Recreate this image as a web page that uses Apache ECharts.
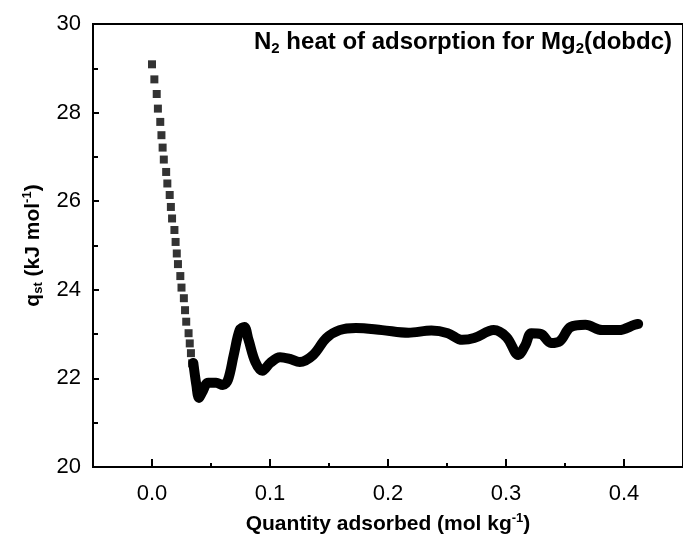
<!DOCTYPE html>
<html>
<head>
<meta charset="utf-8">
<script src="https://cdn.jsdelivr.net/npm/echarts@6/dist/echarts.min.js"></script>
<style>
html,body{margin:0;padding:0;background:#fff;}
#main{width:683px;height:544px;}
</style>
</head>
<body>
<div id="main"></div>
<script>
// Discrete low-loading points (square markers)
var scatterX = [0.000, 0.002, 0.004, 0.005, 0.007, 0.008, 0.009, 0.010, 0.012, 0.013, 0.015, 0.016, 0.017, 0.019, 0.020, 0.021, 0.022, 0.024, 0.025, 0.027, 0.028, 0.029, 0.031, 0.032, 0.033, 0.034];
var scatterY = [29.09, 28.75, 28.42, 28.09, 27.79, 27.49, 27.21, 26.94, 26.66, 26.40, 26.14, 25.87, 25.61, 25.35, 25.08, 24.82, 24.58, 24.31, 24.05, 23.81, 23.54, 23.28, 23.02, 22.79, 22.57, 22.34];
// Dense region (appears as a thick continuous curve)
var lineX = [0.035, 0.0376, 0.0398, 0.0426, 0.0476, 0.0543, 0.0601, 0.0643, 0.0693, 0.0743, 0.0782, 0.0818, 0.0876, 0.0935, 0.1002, 0.1085, 0.1169, 0.1252, 0.1366, 0.1477, 0.1589, 0.1728, 0.1951, 0.2173, 0.2368, 0.2507, 0.2629, 0.2730, 0.2896, 0.3005, 0.3105, 0.3164, 0.3214, 0.3297, 0.3381, 0.3456, 0.3548, 0.3673, 0.3815, 0.3957, 0.4090, 0.4120];
var lineY = [22.35, 21.85, 21.56, 21.69, 21.90, 21.90, 21.85, 21.96, 22.53, 23.09, 23.16, 22.87, 22.37, 22.17, 22.35, 22.48, 22.44, 22.37, 22.53, 22.91, 23.09, 23.14, 23.09, 23.03, 23.08, 23.02, 22.87, 22.91, 23.09, 22.93, 22.53, 22.75, 23.02, 23.00, 22.80, 22.84, 23.16, 23.21, 23.09, 23.09, 23.21, 23.23];
var xMajor = [0, 0.1, 0.2, 0.3, 0.4];
var xMinor = [0.05, 0.15, 0.25, 0.35, 0.45];

var FONT = 'Liberation Sans';
function pairs(xs, ys){ return xs.map(function(x,i){ return [x, ys[i]]; }); }

var chart = echarts.init(document.getElementById('main'), null, {renderer:'canvas'});
chart.setOption({
  animation: false,
  backgroundColor: '#fff',
  title: {
    text: '{a|N}{s|2}{a| heat of adsorption for Mg}{s|2}{a|(dobdc)}',
    right: 6, top: 24,
    textStyle: {
      rich: {
        a: {fontFamily: FONT, fontWeight: 'bold', fontSize: 24, color: '#000', lineHeight: 27},
        s: {fontFamily: FONT, fontWeight: 'bold', fontSize: 15, color: '#000', lineHeight: 4, verticalAlign: 'bottom'}
      }
    }
  },
  grid: {left: 93, top: 24, right: -9, bottom: 77, show: true, borderColor: '#000', borderWidth: 2, backgroundColor: 'transparent'},
  xAxis: [{
    type: 'value', min: -0.05, max: 0.45,
    name: '{b|Quantity adsorbed (mol kg}{p|-1}{b|)}',
    nameLocation: 'middle', nameGap: 45,
    nameTextStyle: {rich: {
      b: {fontFamily: FONT, fontWeight: 'bold', fontSize: 21, color: '#000', lineHeight: 24},
      p: {fontFamily: FONT, fontWeight: 'bold', fontSize: 13, color: '#000', lineHeight: 8, verticalAlign: 'top'}
    }},
    axisLine: {show: true, onZero: false, lineStyle: {color: '#000', width: 2}},
    axisTick: {show: true, inside: true, length: 8, customValues: xMajor, lineStyle: {color: '#000', width: 2}},
    axisLabel: {show: true, customValues: xMajor, margin: 16, fontFamily: FONT, fontSize: 22, color: '#000',
      formatter: function(v){ return v.toFixed(1); }},
    splitLine: {show: false}
  }, {
    type: 'value', min: -0.05, max: 0.45, position: 'bottom', gridIndex: 0,
    axisLine: {show: false},
    axisTick: {show: true, inside: true, length: 4, customValues: xMinor, lineStyle: {color: '#000', width: 2}},
    axisLabel: {show: false},
    splitLine: {show: false}
  }],
  yAxis: {
    type: 'value', min: 20, max: 30, interval: 2,
    name: '{q|q}{s|st}{q| (kJ mol}{p|-1}{q|)}',
    nameLocation: 'middle', nameGap: 48, nameRotate: 90,
    nameTextStyle: {rich: {
      q: {fontFamily: FONT, fontWeight: 'bold', fontSize: 21, color: '#000', lineHeight: 24},
      s: {fontFamily: FONT, fontWeight: 'bold', fontSize: 13, color: '#000', lineHeight: 4, verticalAlign: 'bottom'},
      p: {fontFamily: FONT, fontWeight: 'bold', fontSize: 13, color: '#000', lineHeight: 8, verticalAlign: 'top'}
    }},
    axisLine: {show: true, onZero: false, lineStyle: {color: '#000', width: 2}},
    axisTick: {show: true, inside: true, length: 6, lineStyle: {color: '#000', width: 2}},
    minorTick: {show: true, splitNumber: 2, length: 5, lineStyle: {color: '#000', width: 2}},
    axisLabel: {margin: 12, fontFamily: FONT, fontSize: 22, color: '#000'},
    splitLine: {show: false},
    minorSplitLine: {show: false}
  },
  series: [{
    type: 'scatter', xAxisIndex: 0,
    data: pairs(scatterX, scatterY),
    symbol: 'rect', symbolSize: 8,
    itemStyle: {color: '#000'},
    z: 3
  }, {
    type: 'line', xAxisIndex: 0,
    data: pairs(lineX, lineY),
    smooth: 0.35, showSymbol: false,
    lineStyle: {color: '#000', width: 10, cap: 'round', join: 'round'},
    z: 3
  }]
});
</script>
</body>
</html>
